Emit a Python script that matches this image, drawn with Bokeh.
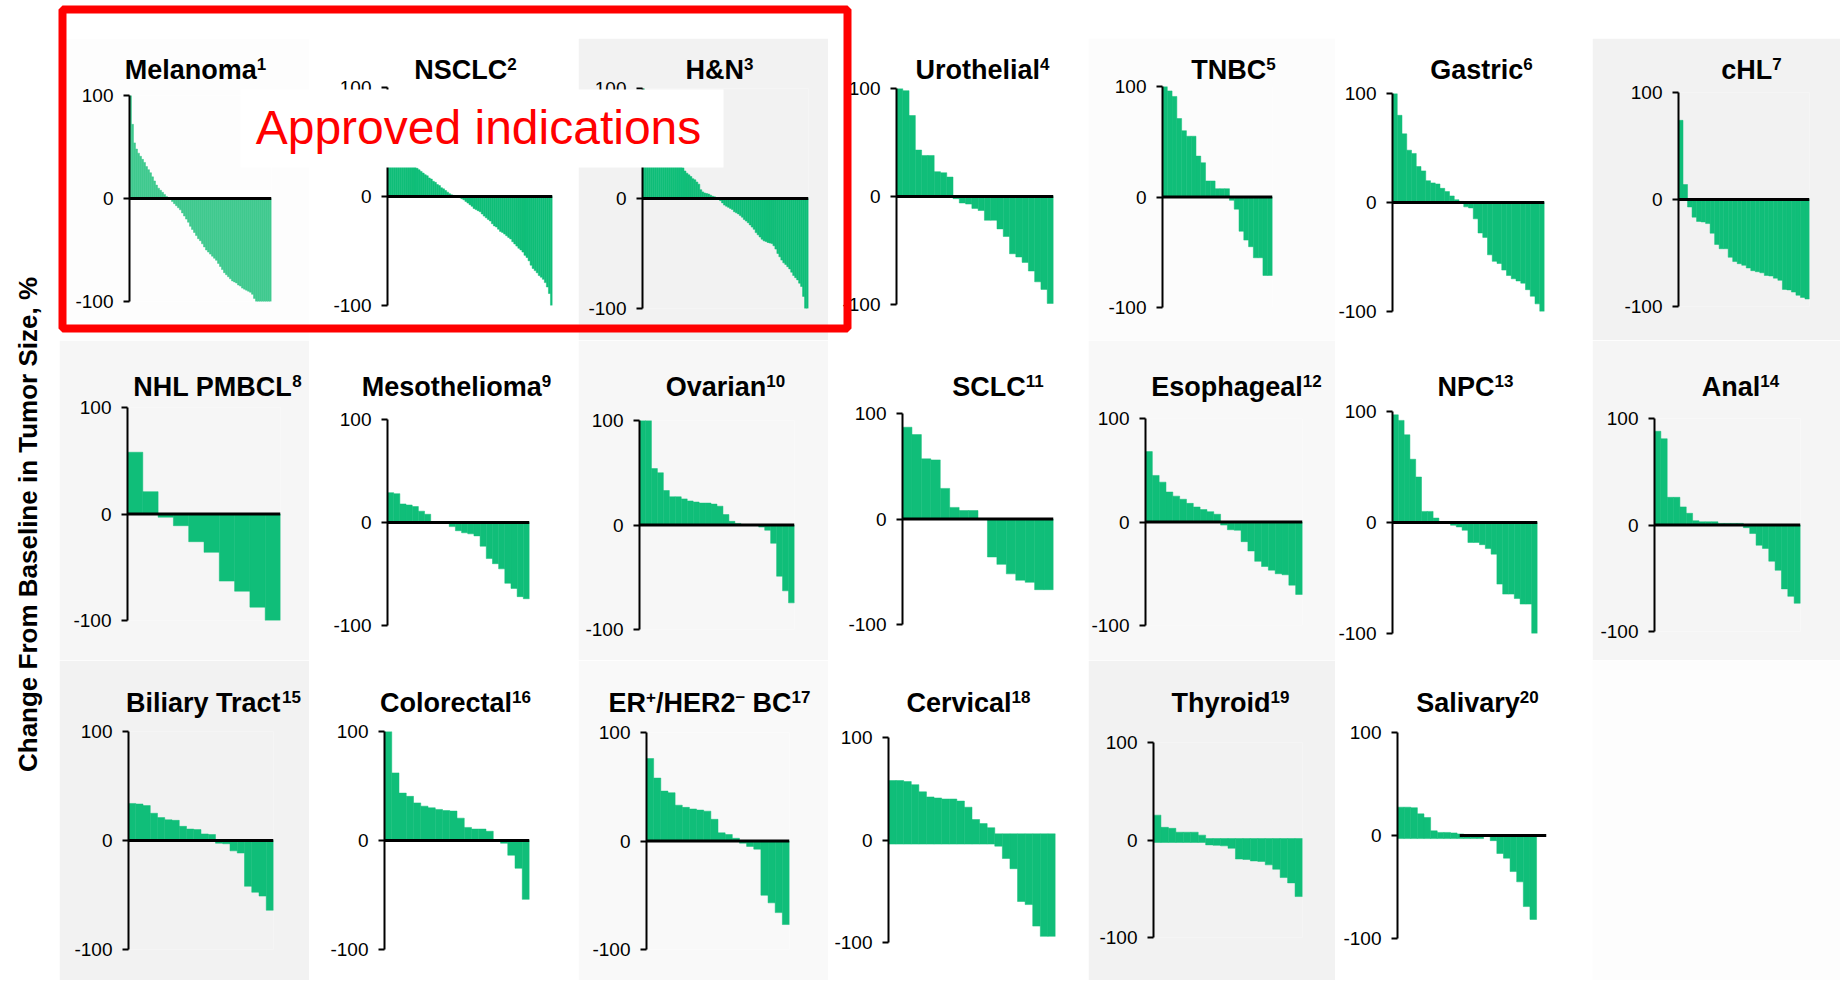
import math
from bokeh.plotting import figure
from bokeh.layouts import column
from bokeh.models import GridBox, Spacer, Range1d, FixedTicker, BoxAnnotation, Label
from bokeh.embed import file_html
from bokeh.resources import INLINE

SANS = "'Liberation Sans', Arial, sans-serif"
GREEN = "#10be79"
LIGHT_GREEN = "#3fc98e"

# ---------------- data (percent change from baseline, one value per patient bar) ----------------
melanoma = [100, 72, 54, 48, 44, 41, 38, 35, 31, 28, 25, 21, 17, 13, 10, 8, 6, 4, 2, 0.5,
            -1, -3, -5, -7, -9, -11, -14, -17, -20, -23, -27, -30, -33, -36, -39, -41, -44, -47,
            -50, -52, -54, -56, -58, -60, -63, -66, -69, -72, -74, -76, -78, -80, -81, -82, -84,
            -85, -87, -88, -89, -90, -91, -93, -97, -100, -100, -100, -100, -100, -100, -100, -100]
nsclc = [90, 72, 60, 52, 46, 42, 39, 36, 34, 32, 30, 29, 28, 27,
         26, 24.5, 23, 21.5, 20, 19, 17, 16, 14, 13, 11, 10, 8, 7, 5.5, 4, 2.5, 1.5, 1, 0.5,
         -0.5, -1, -2, -3, -4.5, -6, -7.5, -9, -11, -12, -13, -14, -16, -18, -19.5, -21, -22.5,
         -25, -27, -28, -30, -32, -33, -34.5, -36, -37.5, -39, -41.5, -43.5, -45.5, -47.5, -49,
         -51, -54, -56, -59, -63, -66, -68, -70, -72.5, -74, -76, -79, -83, -89, -100]
head_neck = [100, 90, 80, 72, 66, 61, 57, 53, 50, 47, 44, 42, 40, 38, 36, 35, 33, 32, 30, 29,
             28, 25, 23, 21.5, 20, 18, 17, 15, 13, 8, 6, 5, 4.5, 4, 3, 2, 1.5, 0.5, -0.5, -2,
             -4, -6, -7, -8, -9, -10, -12, -13, -14, -15.5, -17, -19, -20.5, -22, -24, -26, -28,
             -31, -33, -35, -37, -38.5, -39, -40, -40.5, -41, -43, -46, -50, -53, -56, -58.5,
             -60, -62, -64, -67, -70, -72, -74, -77, -80, -89, -100, -100]
urothelial = [100, 98, 75, 43, 38, 38, 23, 22, 18, -2, -6, -7, -11, -13, -22, -22, -30, -37,
              -53, -56, -61, -69, -79, -86, -99]
tnbc = [100, 96, 91, 71, 60, 55, 55, 37, 31, 14.5, 14.5, 7.5, 7.5, 7.5, -3, -11, -31, -39,
        -45, -55, -55, -71, -71]
gastric = [100, 80, 63, 48, 45, 33, 29, 20, 18, 17, 13, 10, 6, 2.5, 1, -4, -5, -15, -28, -32,
           -48, -54, -56, -62, -67, -70, -72, -74, -80, -86, -93, -100]
chl = [74, 14, -7, -16.5, -20.5, -21, -22.5, -31.5, -42, -46, -46, -54, -58, -60, -61.5, -64,
       -66.5, -67.5, -68.5, -71, -71.5, -73.5, -75.5, -84, -84.5, -86.5, -89.5, -91.5, -93]
nhl_pmbcl = [58, 21, -3, -11, -26, -36, -63, -72.5, -87.5, -100]
mesothelioma = [29, 28, 18, 17, 15.5, 11, 8, 0.5, 0, -1, -4, -8, -10, -11, -13, -23, -35, -40,
                -45, -59, -64, -72, -74]
ovarian = [100, 100, 54, 50, 33, 27, 27, 25, 23, 22, 21, 21, 20, 18, 10, 3.5, 1.5, 0.5, 0,
           -0.5, -2, -5, -17.5, -49, -63, -74.5]
sclc = [87, 80, 57, 56, 29, 11, 8, 8, 0, -36, -43, -52, -58, -60, -67, -67]
esophageal = [68, 45, 38.5, 29, 25, 22, 18, 14.5, 12, 10, 7.5, -3, -7.5, -8, -19, -28, -38,
              -43, -46.5, -50, -51, -61, -70]
npc = [97, 92, 79, 57, 41, 10, 10, 4, 0.5, 0.3, -2.5, -4, -7, -18, -18, -20, -23.5, -28.5,
       -55.5, -64.5, -64.5, -68.5, -73.5, -73.5, -100]
anal = [88, 81, 26, 26, 17, 11, 4, 3, 3, 3, 1.5, 1.5, 1.5, 1.5, -2.5, -8, -19, -22, -34, -42.5,
        -60, -67, -73.5]
biliary = [34, 33.5, 32, 25, 21, 19, 18.5, 13, 10.5, 10, 6, 5.5, -2.5, -3, -9.5, -11.5, -42,
           -47.5, -51, -64]
colorectal = [100, 62, 43.5, 40.5, 34.5, 31.5, 30, 28.5, 27.5, 27, 20.5, 12, 10.5, 10.5, 8.5,
              0.5, -2.5, -13.5, -25.5, -54]
er_her2 = [76, 58, 46, 44.5, 33, 31, 29.5, 28.5, 27.5, 20, 7.5, 6, 2.5, -2, -5, -7.5, -50, -57,
           -66, -77]
cervical = [58, 58, 57, 54, 47, 42, 41, 40, 40, 38, 32, 20, 16, 12, -6, -18, -28, -60, -63, -84,
            -94, -94]
thyroid = [25.5, 13, 12, 8, 8, 8, 5, -5, -5.5, -6, -8.5, -19.5, -20, -21.5, -22, -25.5, -30,
           -38.5, -44, -58]
salivary = [27.5, 27.5, 27, 21, 17.5, 4.5, 3, 3, 2.5, 1.5, 1, 1, 0.5, -1, -5, -17.5, -22, -35,
            -45, -69, -81.5]

tick_values = [-100, 0, 100]
tick_labels = ["-100", "0", "100"]

panel_values = {
    "Melanoma": melanoma, "NSCLC": nsclc, "H&N": head_neck, "Urothelial": urothelial,
    "TNBC": tnbc, "Gastric": gastric, "cHL": chl,
    "NHL PMBCL": nhl_pmbcl, "Mesothelioma": mesothelioma, "Ovarian": ovarian, "SCLC": sclc,
    "Esophageal": esophageal, "NPC": npc, "Anal": anal,
    "Biliary Tract": biliary, "Colorectal": colorectal, "ER+/HER2- BC": er_her2,
    "Cervical": cervical, "Thyroid": thyroid, "Salivary": salivary,
}
titles = {
    "Melanoma": [("Melanoma", 0), ("1", 1)], "NSCLC": [("NSCLC", 0), ("2", 1)],
    "H&N": [("H&N", 0), ("3", 1)], "Urothelial": [("Urothelial", 0), ("4", 1)],
    "TNBC": [("TNBC", 0), ("5", 1)], "Gastric": [("Gastric", 0), ("6", 1)],
    "cHL": [("cHL", 0), ("7", 1)], "NHL PMBCL": [("NHL PMBCL", 0), ("8", 1)],
    "Mesothelioma": [("Mesothelioma", 0), ("9", 1)], "Ovarian": [("Ovarian", 0), ("10", 1)],
    "SCLC": [("SCLC", 0), ("11", 1)], "Esophageal": [("Esophageal", 0), ("12", 1)],
    "NPC": [("NPC", 0), ("13", 1)], "Anal": [("Anal", 0), ("14", 1)],
    "Biliary Tract": [("Biliary Tract", 0), ("15", 1)], "Colorectal": [("Colorectal", 0), ("16", 1)],
    "ER+/HER2- BC": [("ER", 0), ("+", 1), ("/HER2", 0), ("\u2013", 1), (" BC", 0), ("17", 1)],
    "Cervical": [("Cervical", 0), ("18", 1)], "Thyroid": [("Thyroid", 0), ("19", 1)],
    "Salivary": [("Salivary", 0), ("20", 1)],
}

# ---------------- layout (reference-image pixels) ----------------
COL_L = [59, 309, 578, 828, 1088, 1335, 1592]
COL_R = [309, 578, 828, 1088, 1335, 1592, 1840]
ROW_T = [38, 340, 660]
ROW_B = [340, 660, 980]
TITLE_BASE = [79, 396, 712]
W_TOTAL, H_TOTAL = 1840, 980

geom = {
    "Melanoma": (0, 0, 129, 271, 95, 301, 195), "NSCLC": (0, 1, 387, 552, 87, 305, 465),
    "H&N": (0, 2, 642, 808, 88, 308, 719), "Urothelial": (0, 3, 896, 1053, 88, 304, 982),
    "TNBC": (0, 4, 1162, 1272, 86, 307, 1233), "Gastric": (0, 5, 1388, 1544, 93, 311, 1481),
    "cHL": (0, 6, 1678, 1809, 92, 306, 1751),
    "NHL PMBCL": (1, 0, 127, 280, 407, 620, 217), "Mesothelioma": (1, 1, 387, 529, 419, 625, 456),
    "Ovarian": (1, 2, 639, 794, 420, 629, 725), "SCLC": (1, 3, 902, 1053, 413, 624, 998),
    "Esophageal": (1, 4, 1141, 1302, 418, 625, 1236), "NPC": (1, 5, 1392, 1537, 411, 633, 1475),
    "Anal": (1, 6, 1654, 1800, 418, 631, 1740),
    "Biliary Tract": (2, 0, 128, 273, 731, 949, 213), "Colorectal": (2, 1, 384, 529, 731, 949, 455),
    "ER+/HER2- BC": (2, 2, 646, 789, 732, 949, 709), "Cervical": (2, 3, 888, 1055, 737, 942, 968),
    "Thyroid": (2, 4, 1153, 1302, 742, 937, 1230), "Salivary": (2, 5, 1397, 1546, 732, 938, 1477),
}
bgs = {
    "Melanoma": "#fdfdfd", "NSCLC": "#ffffff", "H&N": "#f2f2f2", "Urothelial": "#ffffff",
    "TNBC": "#fcfcfc", "Gastric": "#ffffff", "cHL": "#f2f2f2",
    "NHL PMBCL": "#f6f6f6", "Mesothelioma": "#ffffff", "Ovarian": "#f7f7f7", "SCLC": "#ffffff",
    "Esophageal": "#f8f8f8", "NPC": "#ffffff", "Anal": "#f5f5f5",
    "Biliary Tract": "#f2f2f2", "Colorectal": "#ffffff", "ER+/HER2- BC": "#f9f9f9",
    "Cervical": "#ffffff", "Thyroid": "#f2f2f2", "Salivary": "#ffffff",
}
special = {
    "Melanoma": dict(color=LIGHT_GREEN),
    "Cervical": dict(zero=False, pos_base=-4, neg_base=6),
    "Thyroid": dict(zero=False, pos_base=-2.5, neg_base=1.5),
    "Salivary": dict(pos_base=-3, extra=1.5, zero_from=8.9),
}

# Arial Bold advance widths (1/1000 em) -- Liberation Sans Bold shares them
AW = {' ': 278, '&': 722, '+': 584, '/': 278, '-': 333, '\u2013': 556,
      'A': 722, 'B': 722, 'C': 722, 'E': 667, 'G': 778, 'H': 722, 'L': 611, 'M': 833, 'N': 722,
      'O': 778, 'P': 667, 'R': 722, 'S': 667, 'T': 611, 'U': 722,
      'a': 556, 'b': 611, 'c': 556, 'd': 611, 'e': 556, 'g': 611, 'h': 611, 'i': 278, 'l': 278,
      'm': 889, 'n': 611, 'o': 611, 'p': 611, 'r': 389, 's': 556, 't': 333, 'u': 611, 'v': 556,
      'y': 556}


def tw(s, size):
    return sum(AW.get(ch, 556) for ch in s) / 1000.0 * size


TITLE_SIZE = 27
SUP_SIZE = 17
SUP_RAISE = 10
MID = 0.35  # distance baseline -> em-box middle, in em


def X(v):
    return v


def Y(v):
    return H_TOTAL - v


def make_panel(name):
    vals = panel_values[name]
    r, c, ax, end, yt, yb, tcx = geom[name]
    st = special.get(name, {})
    n = len(vals)
    extra = st.get("extra", 0.0)
    p = figure(width=COL_R[c] - COL_L[c], height=ROW_B[r] - ROW_T[r],
               x_range=Range1d(-0.5, n - 0.5 + extra), y_range=Range1d(-100, 100),
               output_backend="svg", toolbar_location=None, x_axis_location=None, title=None,
               min_border_left=ax - COL_L[c], min_border_right=COL_R[c] - end,
               min_border_top=yt - ROW_T[r], min_border_bottom=ROW_B[r] - yb)
    p.background_fill_color = bgs[name]
    p.border_fill_color = bgs[name]
    p.outline_line_color = None
    p.grid.visible = False
    pb, nb = st.get("pos_base", 0), st.get("neg_base", 0)
    bottoms = [pb if v >= 0 else nb for v in vals]
    col = st.get("color", GREEN)
    p.vbar(x=list(range(n)), top=vals, bottom=bottoms, width=1.0,
           fill_color=col, line_color=col, line_width=0.5)
    if st.get("zero", True):
        p.segment(x0=[st.get("zero_from", -0.5)], x1=[n - 0.5 + extra], y0=[0], y1=[0],
                  line_color="black", line_width=3)
    ya = p.yaxis[0]
    ya.ticker = FixedTicker(ticks=tick_values)
    ya.major_label_overrides = dict(zip(tick_values, tick_labels))
    ya.axis_line_color = "black"
    ya.axis_line_width = 2
    ya.major_tick_line_color = "black"
    ya.major_tick_line_width = 2
    ya.major_tick_out = 6
    ya.major_tick_in = 0
    ya.minor_tick_out = 0
    ya.minor_tick_in = 0
    ya.major_label_standoff = 10
    ya.major_label_text_font = SANS
    ya.major_label_text_font_size = "19px"
    ya.major_label_text_color = "black"
    return p


children = [(Spacer(width=COL_L[0], height=ROW_T[0]), 0, 0)]
for name in panel_values:
    r, c = geom[name][0], geom[name][1]
    # wrapped individually so that frames are not aligned across the grid
    children.append((column(make_panel(name), spacing=0), r + 1, c + 1))

empty = figure(width=COL_R[6] - COL_L[6], height=ROW_B[2] - ROW_T[2], output_backend="svg",
               toolbar_location=None, x_axis_location=None, y_axis_location=None, title=None,
               x_range=Range1d(0, 1), y_range=Range1d(0, 1), min_border=0)
empty.background_fill_color = "#fdfdfd"
empty.border_fill_color = "#fdfdfd"
empty.outline_line_color = None
empty.grid.visible = False
children.append((column(empty, spacing=0), 3, 7))

# ---------------- overlay: titles, axis title, highlight box ----------------
ov = figure(width=W_TOTAL, height=H_TOTAL, x_range=Range1d(0, W_TOTAL),
            y_range=Range1d(0, H_TOTAL), output_backend="svg", toolbar_location=None,
            x_axis_location=None, y_axis_location=None, title=None, min_border=0,
            stylesheets=[":host { position: absolute !important; left: 0px !important; "
                         "top: 0px !important; width: %dpx !important; height: %dpx !important; "
                         "min-width: %dpx !important; min-height: %dpx !important; "
                         "z-index: 10; pointer-events: none; }"
                         % (W_TOTAL, H_TOTAL, W_TOTAL, H_TOTAL)])
ov.background_fill_alpha = 0
ov.border_fill_alpha = 0
ov.outline_line_color = None
ov.grid.visible = False

for name, parts in titles.items():
    r, tcx = geom[name][0], geom[name][6]
    widths = [tw(t, SUP_SIZE if s else TITLE_SIZE) for t, s in parts]
    xpos = tcx - sum(widths) / 2.0
    for (t, s), wdt in zip(parts, widths):
        size = SUP_SIZE if s else TITLE_SIZE
        lead = len(t) - len(t.lstrip(" "))
        txt = t.lstrip(" ")
        x0 = xpos + tw(" " * lead, size)
        base = TITLE_BASE[r] - (SUP_RAISE if s else 0)
        ov.add_layout(Label(x=X(x0), y=Y(base - MID * size), text=txt,
                            text_align="left", text_baseline="middle", text_font=SANS,
                            text_font_style="bold", text_font_size=f"{size}px",
                            text_color="black"))
        xpos += wdt

ov.add_layout(Label(x=X(27), y=Y(524), text="Change From Baseline in Tumor Size, %",
                    angle=math.pi / 2, text_align="center", text_baseline="middle",
                    text_font=SANS, text_font_style="bold", text_font_size="26px",
                    text_color="black"))

ov.add_layout(BoxAnnotation(left=X(240), right=X(723), top=Y(89), bottom=Y(167),
                            fill_color="white", fill_alpha=1.0, line_alpha=0))
ov.add_layout(Label(x=X(478), y=Y(144 - MID * 48), text="Approved indications",
                    text_align="center", text_baseline="middle", text_font=SANS,
                    text_font_size="48px", text_color="#ff0000"))
ov.add_layout(BoxAnnotation(left=X(62), right=X(847), top=Y(9), bottom=Y(328),
                            fill_alpha=0, line_color="#ff0000", line_alpha=1.0, line_width=8))

children.append((ov, 0, 0))

grid = GridBox(children=children, spacing=0)
open("out.html", "w").write(file_html(grid, INLINE))
